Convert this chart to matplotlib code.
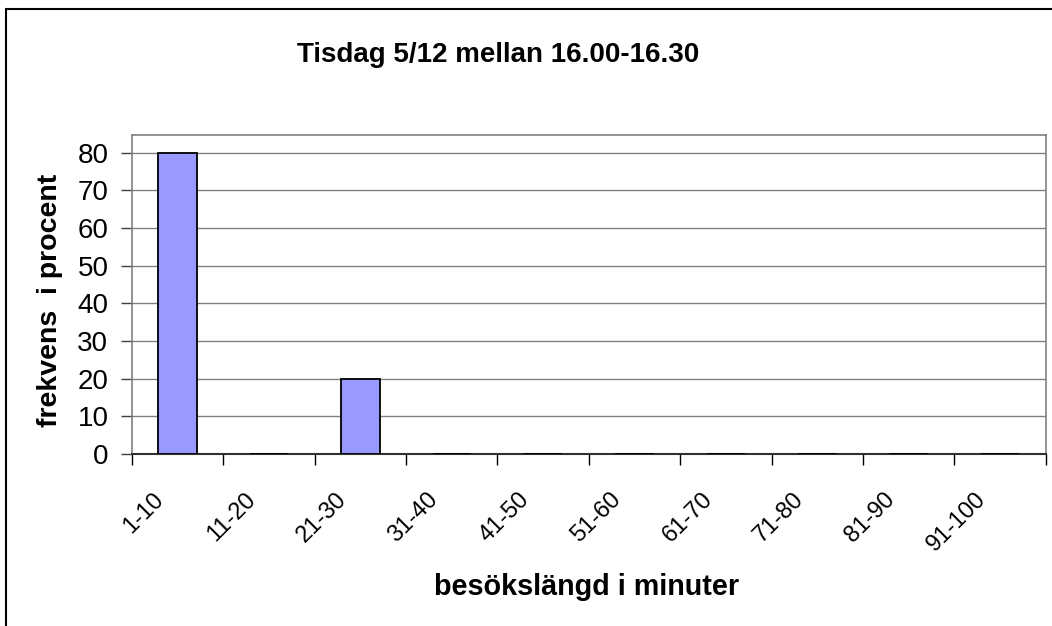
import matplotlib
matplotlib.use("Agg")
import matplotlib.pyplot as plt
import matplotlib.patches as patches
import matplotlib.transforms as mtransforms
import numpy as np

plt.rcParams['font.family'] = ['Liberation Sans', 'DejaVu Sans']

# data
kategorier = ["1-10", "11-20", "21-30", "31-40", "41-50",
              "51-60", "61-70", "71-80", "81-90", "91-100"]
frekvens = [80, 0, 20, 0, 0, 0, 0, 0, 0, 0]
y_ticks = [0, 10, 20, 30, 40, 50, 60, 70, 80]

titel = "Tisdag 5/12 mellan 16.00-16.30"
x_titel = "besökslängd i minuter"
y_titel = "frekvens  i procent"

W, H = 1052, 626
fig = plt.figure(figsize=(W / 100, H / 100), dpi=100)
ax = fig.add_axes([132 / W, 1 - 454 / H, (1045.7 - 132) / W, (454 - 135) / H])

# outer chart frame (right/bottom edges fall outside the image)
fig.patches.append(patches.Rectangle((6 / W, -0.1), 1.1, 1 - 9 / H + 0.1,
                                     transform=fig.transFigure, fill=False,
                                     edgecolor='black', linewidth=1.5))

x = np.arange(len(kategorier))
ax.bar(x, frekvens, width=0.42, color='#9999FF', edgecolor='black',
       linewidth=1.3, zorder=3)

ax.set_xlim(-0.5, len(kategorier) - 0.5)
ax.set_ylim(0, 84.7)
ax.set_yticks(y_ticks)
ax.grid(axis='y', color='#808080', linewidth=1, zorder=0)

# ticks at category boundaries, labels at centers
ax.set_xticks(np.arange(len(kategorier) + 1) - 0.5)
ax.set_xticklabels([])
ax.set_xticks(x, minor=True)
ax.set_xticklabels(kategorier, minor=True, rotation=45, ha='right',
                   va='center', rotation_mode='anchor', fontsize=17)
ax.tick_params(axis='x', which='minor', length=0, pad=30.5)
ax.tick_params(axis='x', which='major', length=8, width=1, color='black')
ax.tick_params(axis='y', length=8, width=1, color='#404040',
               labelsize=20, pad=9)

# shift rotated labels a bit to the left, like Excel does
decal = mtransforms.ScaledTranslation(-0.17, 0, fig.dpi_scale_trans)
for lbl in ax.get_xticklabels(minor=True):
    lbl.set_transform(lbl.get_transform() + decal)

for s in ['top', 'right', 'left']:
    ax.spines[s].set_color('#808080')
    ax.spines[s].set_linewidth(1.2)
ax.spines['bottom'].set_color('#303030')
ax.spines['bottom'].set_linewidth(1.5)

fig.text(498.5 / W, 1 - 62 / H, titel, ha='center', va='baseline',
         fontsize=20, fontweight='bold')
fig.text(586.5 / W, 1 - 587 / H, x_titel, ha='center', va='center',
         fontsize=20.7, fontweight='bold')
fig.text(50 / W, 1 - 300 / H, y_titel, ha='center', va='center',
         rotation=90, fontsize=20.5, fontweight='bold')

fig.savefig('out.png', dpi=100)
